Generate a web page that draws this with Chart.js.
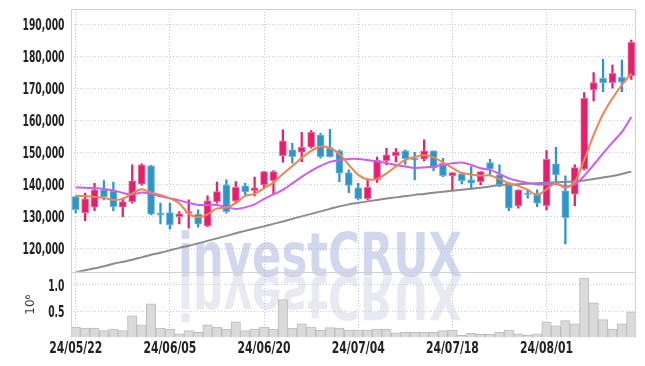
<!DOCTYPE html>
<html>
<head>
<meta charset="utf-8">
<script src="https://cdn.jsdelivr.net/npm/chart.js@4.4.1/dist/chart.umd.min.js"></script>
<style>
  html, body { margin: 0; padding: 0; background: #fff; }
  #wrap { width: 645px; height: 366px; position: relative; }
</style>
</head>
<body>
<div id="wrap"><canvas id="chart"></canvas></div>
<script>
// daily candles, 24/05/22 .. 24/08/14
const dates = [
  '24/05/22','24/05/23','24/05/24','24/05/27','24/05/28','24/05/29','24/05/30','24/05/31','24/06/03','24/06/04',
  '24/06/05','24/06/07','24/06/10','24/06/11','24/06/12','24/06/13','24/06/14','24/06/17','24/06/18','24/06/19',
  '24/06/20','24/06/21','24/06/24','24/06/25','24/06/26','24/06/27','24/06/28','24/07/01','24/07/02','24/07/03',
  '24/07/04','24/07/05','24/07/08','24/07/09','24/07/10','24/07/11','24/07/12','24/07/15','24/07/16','24/07/17',
  '24/07/18','24/07/19','24/07/22','24/07/23','24/07/24','24/07/25','24/07/26','24/07/29','24/07/30','24/07/31',
  '24/08/01','24/08/02','24/08/05','24/08/06','24/08/07','24/08/08','24/08/09','24/08/12','24/08/13','24/08/14'
];

const opens = [
  136100,131130,132810,138220,137900,132810,134560,140000,145720,130940,
  131130,129880,130940,130630,126970,134560,139780,134780,139470,138000,
  139780,141130,148940,150720,150000,151560,155400,151440,150400,143630,
  138850,135500,141340,147380,148940,150400,148130,147810,150400,146560,
  142690,143220,141340,140810,146750,142900,140310,133220,136970,137190,
  133310,146340,137900,136880,144780,169470,173130,171750,173440,173940
];
const highs = [
  136300,137190,140310,141130,140630,135630,146030,146340,145900,134060,
  134060,131440,135090,132000,136340,140630,141340,140810,140310,142190,
  144000,144250,156970,152810,156250,156750,155940,157190,150720,144470,
  140310,141700,148460,151250,151130,150720,150000,153840,150400,148130,
  143630,143440,145500,143940,147810,146030,140500,138220,138220,138220,
  150500,151560,142590,146030,168630,174880,179060,177280,178840,185090
];
const lows = [
  131000,128630,131750,135090,131750,129880,134060,139690,130400,127590,
  125940,127590,126250,126560,126750,134060,130940,134060,136660,136340,
  138750,136970,146880,146560,147060,151250,148130,148440,140810,137380,
  135090,135090,140560,146030,147000,146200,141340,147280,144250,142380,
  138220,140090,138440,139780,142900,139250,131750,132500,135630,133000,
  131970,140310,121340,133220,144470,166030,168940,170000,168940,172810
];
const closes = [
  132000,135400,138220,136130,133000,134560,141030,146030,130630,130310,
  127280,130720,131440,127500,134780,137690,131440,139060,137590,138840,
  143940,143940,153530,148620,151560,156250,148620,148620,143440,139630,
  135500,139060,147480,149160,150100,148000,147590,150400,145000,142690,
  143630,141130,140310,143940,144780,139780,132500,138220,136780,134060,
  147810,142900,129560,145190,166880,171750,171750,174690,171880,184380
];

// volume, millions of shares
const volumes = [
  0.20,0.18,0.18,0.13,0.16,0.13,0.41,0.24,0.64,0.18,
  0.16,0.07,0.13,0.10,0.24,0.20,0.16,0.30,0.13,0.16,
  0.20,0.16,0.72,0.18,0.26,0.20,0.14,0.19,0.18,0.14,
  0.14,0.14,0.16,0.16,0.09,0.10,0.10,0.10,0.10,0.13,
  0.14,0.04,0.08,0.06,0.06,0.10,0.14,0.07,0.04,0.07,
  0.30,0.22,0.32,0.26,1.13,0.66,0.34,0.16,0.26,0.49
];

// moving averages
const ma5 = [
  136440,136250,136030,135720,135090,135410,137130,138440,137380,136660,
  135560,134000,130720,129690,130560,132440,132690,134060,136340,136970,
  138750,140500,143220,145720,148220,150410,151810,151250,149470,146030,
  142910,141500,141660,143380,145560,147590,148530,149060,148380,146810,
  145090,143530,143060,142690,142750,141660,140310,139470,138220,136660,
  138380,140410,138840,140720,147590,155410,161970,166880,171030,174690
];
const ma10 = [
  138940,138910,138780,138530,138060,137280,136810,137380,136970,136190,
  135560,134940,134160,133530,133530,133530,132910,132280,132750,133690,
  135410,136810,138220,140250,142280,144160,145720,146970,147590,147910,
  147910,147590,147130,146660,146030,145560,145090,145250,145560,146030,
  146560,146810,146030,145000,144470,143220,141810,141030,140410,139940,
  139940,140090,139310,139940,142590,146030,149630,153060,156340,161030
];
const ma60 = [
  112440,113060,113690,114310,115090,115720,116340,117120,117910,118530,
  119310,120090,120720,121500,122280,123060,123840,124630,125410,126130,
  126810,127590,128310,129160,129940,130720,131500,132280,133060,133690,
  134160,134630,135090,135500,135880,136280,136660,136970,137340,137660,
  137970,138280,138590,138910,139310,139690,139840,140000,140160,140310,
  140470,140590,140720,140880,141190,141660,142120,142590,143220,143940
];

const priceTicks = [120000, 130000, 140000, 150000, 160000, 170000, 180000, 190000];
const volTicks = [0.5, 1.0];

const UP = '#e41f6c';
const DOWN = '#2e95c6';
const UP_EDGE = '#ef6f9e';
const DOWN_EDGE = '#6db5da';
const GRID = '#c6c8dc';
const FONT = "'DejaVu Sans Condensed', 'DejaVu Sans', sans-serif";

const isUp = i => closes[i] >= opens[i];

const wicks = dates.map((d, i) => [lows[i], highs[i]]);
const bodies = dates.map((d, i) => [opens[i], closes[i]]);

// narrow text: squeeze the label to a given width ratio
function narrowText(ctx, text, x, y, k, align) {
  ctx.save();
  ctx.translate(x, y);
  ctx.scale(k, 1);
  ctx.textAlign = align;
  ctx.fillText(text, 0, 0);
  ctx.restore();
}

// watermark, panel frame and the axis labels
const frame = {
  id: 'frame',
  beforeDatasetsDraw(chart) {
    const ctx = chart.ctx;
    const cx = 320, base = 276;
    const txt = 'investCRUX';
    ctx.save();
    ctx.font = 'bold 60px ' + FONT;
    ctx.textBaseline = 'alphabetic';
    const k = 284 / ctx.measureText(txt).width;
    ctx.fillStyle = 'rgba(172,182,220,0.55)';
    narrowText(ctx, txt, cx, base, k, 'center');
    ctx.translate(0, base * 2);
    ctx.scale(1, -1);
    ctx.fillStyle = 'rgba(200,200,222,0.4)';
    narrowText(ctx, txt, cx, base, k, 'center');
    ctx.restore();
  },
  afterDraw(chart) {
    const ctx = chart.ctx;
    const a = chart.chartArea;
    const yS = chart.scales.y, vS = chart.scales.yVol, xS = chart.scales.x;
    const sep = yS.bottom;
    ctx.save();
    ctx.strokeStyle = '#cfcfd6';
    ctx.lineWidth = 1;
    ctx.beginPath();
    ctx.moveTo(a.left + 0.5, a.bottom);
    ctx.lineTo(a.left + 0.5, a.top + 0.5);
    ctx.lineTo(a.right - 0.5, a.top + 0.5);
    ctx.lineTo(a.right - 0.5, a.bottom);
    ctx.moveTo(a.left, Math.round(sep) + 0.5);
    ctx.lineTo(a.right, Math.round(sep) + 0.5);
    ctx.stroke();

    ctx.fillStyle = '#222';
    ctx.font = 'bold 16px ' + FONT;
    ctx.textBaseline = 'middle';
    const ky = 42 / ctx.measureText('190,000').width;
    priceTicks.forEach(v => {
      narrowText(ctx, v.toLocaleString('en-US'), 64.5, yS.getPixelForValue(v) + 1.5, ky, 'right');
    });
    volTicks.forEach(v => {
      narrowText(ctx, v.toFixed(1), 64.5, vS.getPixelForValue(v) + 1.5, ky, 'right');
    });
    const kx = 53 / ctx.measureText('24/05/22').width;
    dates.forEach((d, i) => {
      if (i % 10 === 0) narrowText(ctx, d, xS.getPixelForValue(i), 348.5, kx, 'center');
    });
    ctx.restore();
  }
};

new Chart(document.getElementById('chart'), {
  type: 'bar',
  data: {
    labels: dates,
    datasets: [
      {
        type: 'line', data: ma5, yAxisID: 'y', order: 0,
        borderColor: '#ef8550', borderWidth: 2, pointRadius: 0, tension: 0.3
      },
      {
        type: 'line', data: ma10, yAxisID: 'y', order: 0,
        borderColor: '#cf5bef', borderWidth: 2, pointRadius: 0, tension: 0.3
      },
      {
        type: 'line', data: ma60, yAxisID: 'y', order: 0,
        borderColor: '#8c8c8c', borderWidth: 2, pointRadius: 0, tension: 0.3
      },
      {
        data: bodies, yAxisID: 'y', order: 1, grouped: false,
        barThickness: 7, minBarLength: 1.5,
        backgroundColor: c => isUp(c.dataIndex) ? UP : DOWN,
        borderColor: c => isUp(c.dataIndex) ? UP_EDGE : DOWN_EDGE,
        borderWidth: 1, borderSkipped: false
      },
      {
        data: wicks, yAxisID: 'y', order: 2, grouped: false,
        barThickness: 1.6,
        backgroundColor: c => isUp(c.dataIndex) ? UP : DOWN
      },
      {
        data: volumes, yAxisID: 'yVol', order: 3, grouped: false,
        barPercentage: 1, categoryPercentage: 1,
        backgroundColor: '#dadada', borderColor: '#bcbcbc', borderWidth: 1
      }
    ]
  },
  options: {
    responsive: true,
    maintainAspectRatio: false,
    animation: false,
    layout: { padding: { top: 9, right: 9, left: 0, bottom: 0 } },
    plugins: { legend: { display: false }, tooltip: { enabled: false } },
    scales: {
      x: {
        type: 'category',
        offset: true,
        afterFit: s => { s.height = 28.5; },
        border: { display: false, dash: [1, 2] },
        grid: {
          offset: false, drawTicks: false,
          color: c => c.index % 10 === 0 ? GRID : 'rgba(0,0,0,0)'
        },
        ticks: { display: false, autoSkip: false }
      },
      yVol: {
        position: 'left', stack: 'main', stackWeight: 1,
        min: 0, max: 1.25,
        afterFit: s => { s.width = 71; },
        afterBuildTicks: s => { s.ticks = volTicks.map(v => ({ value: v })); },
        border: { display: false, dash: [1, 2] },
        grid: { color: GRID, drawTicks: false },
        title: {
          display: true, text: '10⁶', color: '#333',
          font: { family: 'DejaVu Sans', size: 12 },
          padding: { top: 24, bottom: 0 }
        },
        ticks: { display: false }
      },
      y: {
        position: 'left', stack: 'main', stackWeight: 4,
        min: 112600, max: 194800,
        afterFit: s => { s.width = 71; },
        afterBuildTicks: s => { s.ticks = priceTicks.map(v => ({ value: v })); },
        border: { display: false, dash: [1, 2] },
        grid: { color: GRID, drawTicks: false },
        ticks: { display: false }
      }
    }
  },
  plugins: [frame]
});
</script>
</body>
</html>
